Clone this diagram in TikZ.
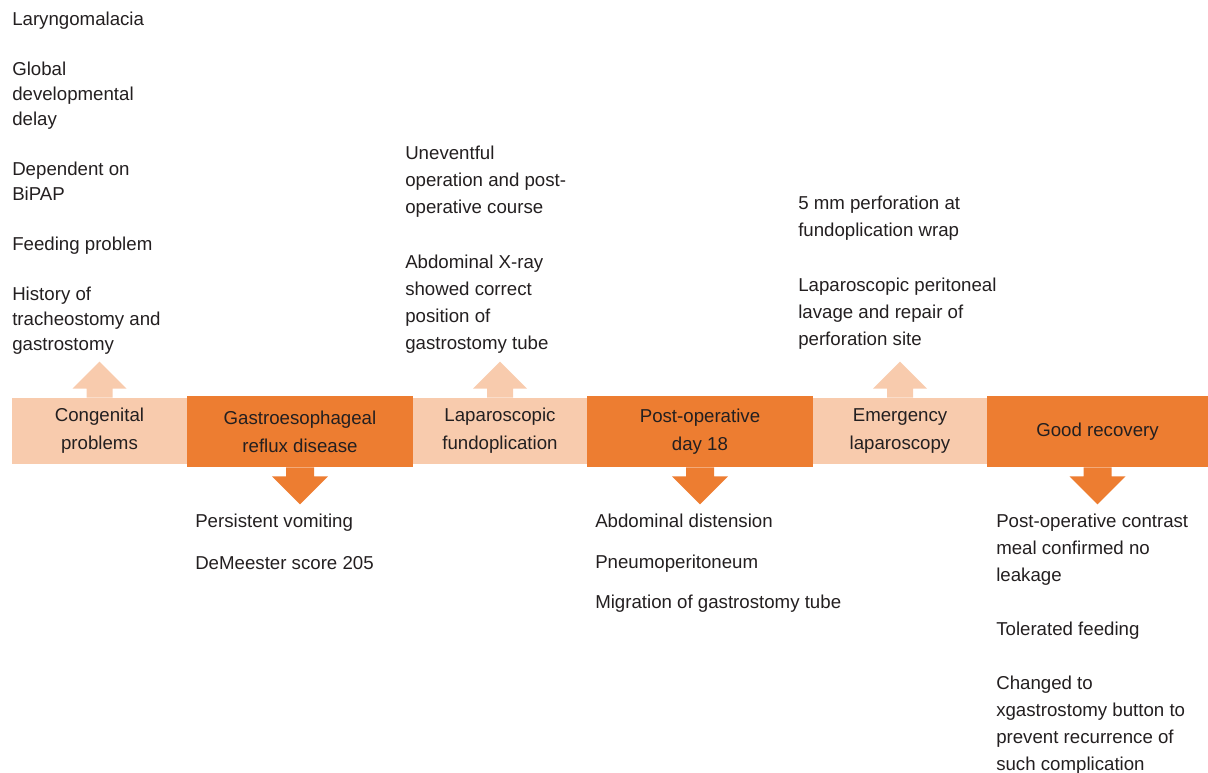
\documentclass[tikz,border=0pt]{standalone}
\usepackage{fontspec}
\setmainfont{Liberation Sans}
\usetikzlibrary{positioning}
\definecolor{darkorange}{HTML}{ED7D31}
\definecolor{lightorange}{HTML}{F8CBAD}
\definecolor{textgray}{HTML}{231F20}
\tikzset{
  lightbox/.style={fill=lightorange, minimum height=49.5pt, inner sep=0pt, align=center, text=textgray, font=\fontsize{14}{21}\selectfont},
  darkbox/.style={fill=darkorange, minimum height=53.25pt, inner sep=0pt, align=center, text=textgray, font=\fontsize{14}{21}\selectfont},
  notes/.style={anchor=north west, inner sep=0pt, align=left, text=textgray, font=\fontsize{14}{20.25}\selectfont},
}
\begin{document}
\begin{tikzpicture}[x=0.75pt, y=-0.75pt]
\useasboundingbox (0,0) rectangle (1208,773);
% timeline band
\node [lightbox, minimum width=131.25pt] (congenital) at (99.5,431) {Congenital\\problems};
\node [darkbox, minimum width=169.5pt] (gerd) at (300,431.5) {Gastroesophageal\\reflux disease};
\node [lightbox, minimum width=130.5pt] (lapfundo) at (500,431) {Laparoscopic\\fundoplication};
\node [darkbox, minimum width=169.5pt] (postop) at (700,431.5) {Post-operative\\day 18};
\node [lightbox, minimum width=130.5pt] (emergency) at (900,431) {Emergency\\laparoscopy};
\node [darkbox, minimum width=165.75pt] (recovery) at (1097.5,431.5) {Good recovery};
% arrows up and down
\foreach \n in {congenital,lapfundo,emergency}
  \fill [lightorange] (\n.north) ++(-13,0) -- ++(0,-9) -- ++(-14,0) -- ++(27,-27) -- ++(27,27) -- ++(-14,0) -- ++(0,9) -- cycle;
\foreach \n in {gerd,postop,recovery}
  \fill [darkorange] (\n.south) ++(-14,0) -- ++(0,9) -- ++(-14,0) -- ++(28,28) -- ++(28,-28) -- ++(-14,0) -- ++(0,-9) -- cycle;
% notes above
\node [notes, font=\fontsize{14}{18.75}\selectfont] (history) at (12,12) {Laryngomalacia\\[18.75pt]
  Global\\developmental\\delay\\[18.75pt]
  Dependent on\\BiPAP\\[18.75pt]
  Feeding problem\\[18.75pt]
  History of\\tracheostomy and\\gastrostomy};
\node [notes] (uneventful) at (405,146) {Uneventful\\operation and post-\\operative course\\[21pt]
  Abdominal X-ray\\showed correct\\position of\\gastrostomy tube};
\node [notes] (perforation) at (798,196) {5 mm perforation at\\fundoplication wrap\\[21pt]
  Laparoscopic peritoneal\\lavage and repair of\\perforation site};
% notes below
\node [notes] (vomiting) at (195,514) {Persistent vomiting\\[11.25pt]
  DeMeester score 205};
\node [notes] (distension) at (595,514) {Abdominal distension\\[10pt]
  Pneumoperitoneum\\[10pt]
  Migration of gastrostomy tube};
\node [notes] (contrast) at (996,514) {Post-operative contrast\\meal confirmed no\\leakage\\[20.25pt]
  Tolerated feeding\\[20.25pt]
  Changed to\\xgastrostomy button to\\prevent recurrence of\\such complication};
\end{tikzpicture}
\end{document}
